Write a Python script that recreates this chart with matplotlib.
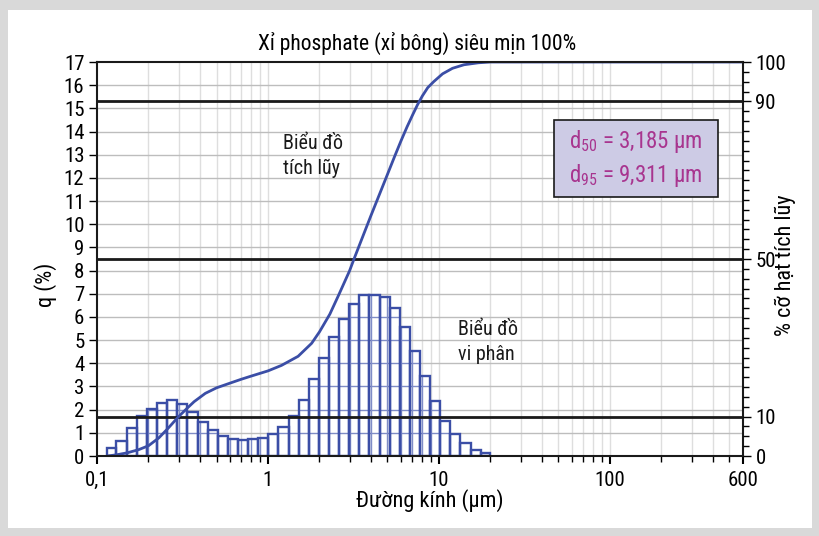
import numpy as np
import matplotlib
matplotlib.use("Agg")
import matplotlib.pyplot as plt
from matplotlib.path import Path
from matplotlib.patches import Rectangle
from matplotlib.ticker import FixedLocator, NullFormatter, MultipleLocator

plt.rcParams['font.family'] = ['Roboto Condensed', 'Liberation Sans Narrow', 'DejaVu Sans Condensed',
                               'Roboto', 'DejaVu Sans']
plt.rcParams['mathtext.fontset'] = 'custom'
plt.rcParams['mathtext.rm'] = 'Roboto Condensed'

# bin edges of the differential distribution (µm)
bin_edges = [0.114, 0.13, 0.15, 0.171, 0.196, 0.225, 0.258, 0.295, 0.338, 0.388,
             0.444, 0.509, 0.583, 0.668, 0.766, 0.877, 1.0, 1.15, 1.32, 1.51,
             1.73, 1.99, 2.28, 2.61, 2.99, 3.42, 3.92, 4.49, 5.15, 5.9,
             6.76, 7.74, 8.87, 10.2, 11.6, 13.3, 15.3, 17.5, 20.0]
# q (%) per bin
q_values = [0.36, 0.65, 1.21, 1.74, 2.02, 2.3, 2.42, 2.24, 1.9, 1.45,
            1.12, 0.86, 0.73, 0.69, 0.72, 0.79, 0.95, 1.26, 1.74, 2.4,
            3.32, 4.24, 5.15, 5.91, 6.54, 6.95, 6.95, 6.85, 6.37, 5.58,
            4.54, 3.44, 2.39, 1.52, 0.95, 0.54, 0.27, 0.15]

# cumulative curve (µm, % passing)
cum_size = [0.115, 0.13, 0.15, 0.175, 0.2, 0.23, 0.26, 0.3, 0.34, 0.37, 0.43, 0.5, 0.6, 0.7,
            0.8, 1.0, 1.2, 1.5, 1.8, 2.0, 2.3, 2.6, 3.0, 3.185, 4.0, 5.0, 5.5, 6.0, 6.5, 7.0,
            7.5, 8.0, 8.6, 9.311, 10.5, 12.0, 14.0, 17.0, 20.0, 600.0]
cum_pct = [0.0, 0.3, 0.8, 1.6, 2.6, 4.6, 7.0, 10.0, 12.3, 13.8, 15.9, 17.3, 18.5, 19.5,
           20.3, 21.6, 23.0, 25.3, 28.6, 31.5, 36.0, 41.0, 47.0, 50.0, 61.0, 71.5, 76.0, 80.0, 83.5, 86.5,
           89.2, 91.4, 93.5, 95.0, 97.0, 98.4, 99.3, 99.8, 100.0, 100.0]

ref_levels = [10, 50, 90]
right_ticks = [0, 10, 50, 90, 100]
x_ticks = [0.1, 1, 10, 100, 600]
x_tick_labels = ['0,1', '1', '10', '100', '600']
d50 = '3,185'
d95 = '9,311'

blue = '#3b4ea6'
inner_blue = '#7f8cc6'
grid_h = '#bdbdbd'
grid_v = '#dedede'
ink = '#1a1a1a'

fig = plt.figure(figsize=(8.2, 5.36), dpi=100)
fig.patch.set_facecolor('#d9d9d9')
fig.patches.append(Rectangle((8 / 820, 8 / 536), 804 / 820, 518 / 536,
                             transform=fig.transFigure, facecolor='white',
                             edgecolor='none', zorder=-5))

ax = fig.add_axes([97 / 820, 80 / 536, 646 / 820, 394 / 536])
ax.set_xscale('log')
ax.set_xlim(0.1, 600)
ax.set_ylim(0, 17)
ax.set_facecolor('white')

# grid
minor_x = [m * 10.0 ** e for e in range(-1, 3) for m in range(2, 10) if m * 10.0 ** e < 600]
major_x = [1, 10, 100]
ax.vlines(minor_x + major_x, 0, 17, color=grid_v, lw=1.0, zorder=1)
ax.hlines(np.arange(1, 17), 0.1, 600, color=grid_h, lw=1.0, zorder=1)

# histogram bars
edges = np.array(bin_edges)
lefts = edges[:-1]
widths = np.diff(edges)
fills = ax.bar(lefts, q_values, width=widths, align='edge', facecolor='white',
               edgecolor='none', zorder=2)

# grid lines seen through the bars are drawn in blue
bar_path = Path.make_compound_path(*[p.get_path().transformed(p.get_patch_transform())
                                     for p in fills])
inner_h = ax.hlines(np.arange(1, 8), 0.1, 600, color=inner_blue, lw=1.0, zorder=2.5)
inner_v = ax.vlines(minor_x + major_x, 0, 17, color=inner_blue, lw=1.0, zorder=2.5)
for coll in (inner_h, inner_v):
    coll.set_clip_path(bar_path, ax.transData)

ax.bar(lefts, q_values, width=widths, align='edge', facecolor='none',
       edgecolor=blue, lw=1.7, zorder=3)

# reference lines at 10, 50 and 90 %
for lvl in ref_levels:
    ax.axhline(lvl * 17 / 100, color=ink, lw=2.0, zorder=4)

# cumulative curve
ax.plot(cum_size, np.array(cum_pct) * 17 / 100, color=blue, lw=2.0, zorder=5,
        solid_capstyle='round', solid_joinstyle='round')

for s in ax.spines.values():
    s.set_color(ink)
    s.set_linewidth(1.5)
    s.set_zorder(6)

ax.set_xticks(x_ticks)
ax.set_xticklabels(x_tick_labels)
ax.xaxis.set_minor_locator(FixedLocator(minor_x))
ax.xaxis.set_minor_formatter(NullFormatter())
ax.set_yticks(np.arange(0, 18))
ax.tick_params(axis='x', which='major', direction='out', length=6, width=1.5, labelsize=15, pad=5)
ax.tick_params(axis='x', which='minor', direction='out', length=4, width=1.0)
ax.tick_params(axis='y', direction='out', length=6, width=1.0, labelsize=15, pad=3)

ax.set_xlabel('Đường kính (µm)', fontsize=16)
ax.xaxis.set_label_coords(0.5155, -0.084)
ax.set_ylabel('q (%)', fontsize=16)
ax.yaxis.set_label_coords(-0.062, 0.434)
ax.set_title('Xỉ phosphate (xỉ bông) siêu mịn 100%', fontsize=15.5, pad=9, x=0.495)

# right axis: cumulative percent
ax2 = ax.twinx()
ax2.set_ylim(0, 100)
ax2.set_yticks(right_ticks)
ax2.yaxis.set_minor_locator(MultipleLocator(2.5))
ax2.tick_params(axis='y', which='major', direction='out', length=6, width=1.0, labelsize=15, pad=3)
ax2.tick_params(axis='y', which='minor', direction='out', length=4, width=1.0)
ax2.set_ylabel('% cỡ hạt tích lũy', fontsize=16)
ax2.yaxis.set_label_coords(1.05, 0.485)
for s in ax2.spines.values():
    s.set_visible(False)

ax.text(1.22, 12.96, 'Biểu đồ\ntích lũy', fontsize=14.5, ha='left', va='center',
        linespacing=1.4, color=ink, zorder=7)
ax.text(12.9, 4.92, 'Biểu đồ\nvi phân', fontsize=14.5, ha='left', va='center',
        linespacing=1.4, color=ink, zorder=7)

# d50 / d95 box
ax.add_patch(Rectangle((0.7074, 0.657), 0.2539, 0.196, transform=ax.transAxes,
                       facecolor='#cdcbe5', edgecolor=ink, lw=1.2, zorder=8))
ax.text(0.7307, 0.797, 'd$_{50}$ = ' + d50 + ' µm', transform=ax.transAxes, fontsize=16.5,
        color='#a8358f', ha='left', va='center', zorder=9)
ax.text(0.7307, 0.712, 'd$_{95}$ = ' + d95 + ' µm', transform=ax.transAxes, fontsize=16.5,
        color='#a8358f', ha='left', va='center', zorder=9)

fig.savefig('out.png', dpi=100, facecolor=fig.get_facecolor())
